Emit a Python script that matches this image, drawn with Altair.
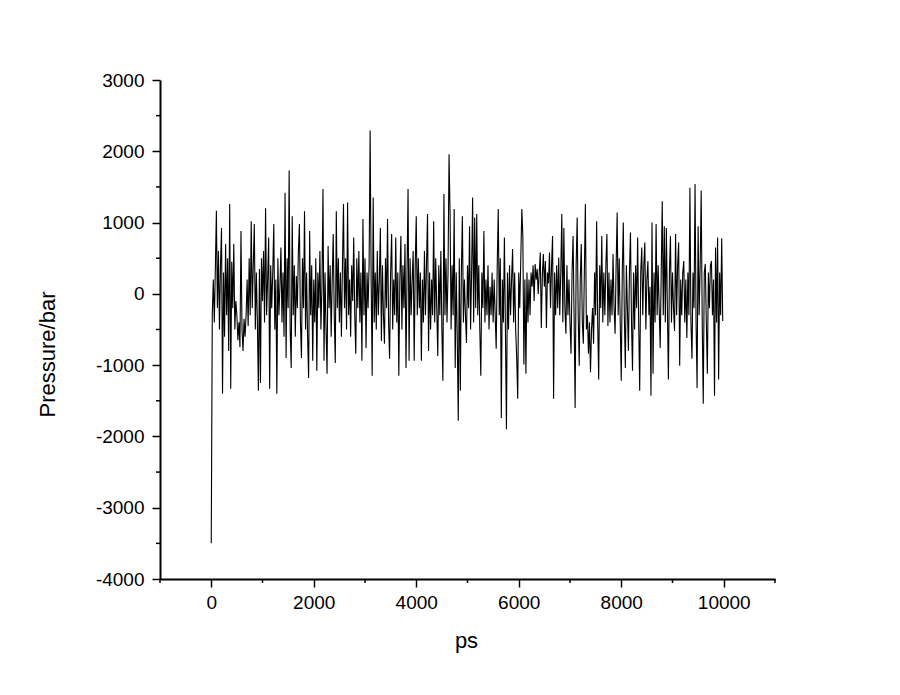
import altair as alt
import pandas as pd

# Pressure (bar), one sample every 20 ps
pressure_bar = [
    -3500, -300, 200, -400, 350, 1165, -200, 600, -500, 400,
    925, -1400, 300, -600, 700, -300, 500, -800, 1260, -1330,
    450, -200, 700, -500, -100, -300, -650, -400, -750, 880,
    -500, -800, -350, -600, -300, 200, -450, 500, -300, 1020,
    -200, 400, 980, -500, 300, -400, -1360, 350, -1250, 500,
    -100, 600, -400, 1200, -300, 200, 790, -1330, 400, -200,
    300, 980, -500, 200, -1400, 500, -300, 100, 650, -400,
    300, -600, 1420, -900, 500, -200, 1730, -500, -1040, 1090,
    -300, 400, -600, 250, -200, 600, 980, -400, -900, 500,
    -200, 1160, -500, 300, -600, -1180, 880, -300, 400, -940,
    200, -400, 500, -1080, 300, -200, 600, -500, 100, 1470,
    -940, 300, -500, -1120, 670, -200, 400, -600, 200, 840,
    -300, -970, 1160, -200, 500, -400, 300, -600, 400, 1260,
    -200, 500, -500, 1280, -300, 200, -600, 400, -100, 790,
    -300, -840, 500, -200, 600, -400, 300, -940, 1050, -300,
    500, -760, 300, -200, 400, 2290, 200, -1150, 1350, -400,
    300, -500, 600, -300, 200, 925, -660, 400, -300, -700,
    500, -200, 1050, -400, -910, 300, 840, -500, 200, -300,
    790, -400, 300, -1150, 200, 810, -500, 400, -200, 700,
    -1040, 300, 1470, -940, 500, -300, 200, 600, -940, 400,
    1090, -300, 500, -200, 300, -940, 200, -400, 600, -300,
    400, 1120, -800, 300, -500, 200, -300, 1020, -400, 500,
    -200, -870, 400, -300, 600, -500, -1220, 1400, -300, 500,
    -400, 300, 1960, 1120, -500, 400, -300, 1190, -1040, 300,
    -600, -1780, 500, -1360, 300, 1090, -400, 200, -300, -690,
    400, -200, 950, -500, 300, 1350, -400, 1070, -200, 1120,
    -300, 400, -500, -1150, 300, -200, 880, -400, 200, -300,
    400, -500, 100, -300, 300, -400, 200, -300, -770, 400,
    1190, -300, 500, -1740, 200, -400, 790, -500, -1900, 300,
    -500, 400, -300, 200, 630, -400, 300, -500, -900, -1470,
    300, -200, 500, 1190, 810, -990, 200, -1120, 300, -400,
    200, -300, 300, 100, 400, -100, 420, 200, 350, 0,
    300, 580, -480, 250, 560, 100, 460, -480, 300, 150,
    580, -200, 400, 810, -1470, 300, -300, 400, -200, 510,
    -300, 300, 1120, -400, 925, -200, -560, 400, -300, 200,
    -400, -840, 300, 810, -300, -1600, 400, 1070, -300, -1010,
    200, 700, -400, -700, 300, 1260, -500, -300, -840, -400,
    -1100, -500, -200, -700, 300, -300, 1020, -400, -1200, 400,
    -200, 810, -400, 300, -300, 400, 840, -450, 300, -400,
    200, -300, 560, -200, -560, 400, 1140, -300, 500, -400,
    -1220, 300, 1000, -300, -1040, 400, -200, -800, 300, 860,
    -400, -1080, 300, -500, 400, -200, 790, -400, -1360, 300,
    650, -300, 400, 720, -500, 200, 460, -300, 100, -1430,
    1000, -1120, 300, -400, 980, -300, 400, -200, -760, 300,
    1300, -300, 950, -400, 925, -200, -1200, 300, 810, -400,
    300, -200, -520, 840, -300, 400, 720, -1010, 200, -300,
    300, 460, -400, 200, -620, 300, -300, 1490, -400, -910,
    300, -200, 1540, -400, -1320, 950, -300, 400, 1450, -400,
    -1540, 300, 420, -400, -1120, 300, -200, 400, 460, -300,
    200, -1430, 650, -400, 790, -1200, 300, -300, 780, -380,
]
time_step_ps = 20
time_ps = [i * time_step_ps for i in range(len(pressure_bar))]

x_major = [0, 2000, 4000, 6000, 8000, 10000]
x_minor = [-1000, 1000, 3000, 5000, 7000, 9000, 11000]
y_major = [-4000, -3000, -2000, -1000, 0, 1000, 2000, 3000]
y_minor = [-3500, -2500, -1500, -500, 500, 1500, 2500]

df = pd.DataFrame({"ps": time_ps, "pressure": pressure_bar})
dfx = pd.DataFrame({"ps": x_minor})
dfy = pd.DataFrame({"pressure": y_minor})

W, H = 615, 499
xscale = alt.Scale(domain=[-1000, 11000], nice=False, zero=False)
yscale = alt.Scale(domain=[-4000, 3000], nice=False, zero=False)

xaxis = alt.Axis(title="ps", values=x_major, labelExpr="'' + datum.value",
                 titleX=306, titleY=68, titleBaseline="alphabetic",
                 labelPadding=6)
yaxis = alt.Axis(title="Pressure/bar", values=y_major, labelExpr="'' + datum.value",
                 titleX=-113, titleY=274, titleBaseline="middle",
                 titleAngle=270, titleAlign="center", labelPadding=8)

line = alt.Chart(df).mark_line(color="black", strokeWidth=1.1).encode(
    x=alt.X("ps:Q", scale=xscale, axis=xaxis, title="ps"),
    y=alt.Y("pressure:Q", scale=yscale, axis=yaxis, title="Pressure/bar"),
)

xminor = alt.Chart(dfx).mark_rule(color="black", strokeWidth=1.5).encode(
    x=alt.X("ps:Q", scale=xscale, axis=xaxis, title="ps"),
    y=alt.value(H),
    y2=alt.value(H + 4),
)

yminor = alt.Chart(dfy).mark_rule(color="black", strokeWidth=1.5).encode(
    y=alt.Y("pressure:Q", scale=yscale, axis=yaxis, title="Pressure/bar"),
    x=alt.value(-4),
    x2=alt.value(0),
)

chart = alt.layer(line, xminor, yminor).properties(
    width=W, height=H,
    background="white",
    autosize=alt.AutoSizeParams(type="none"),
    padding={"left": 152, "top": 72, "right": 100, "bottom": 96},
).configure_view(stroke=None).configure_axis(
    grid=False,
    domainColor="black", domainWidth=2,
    tickColor="black", tickWidth=1.5, tickSize=8,
    labelFont="Liberation Sans", labelFontSize=19, labelColor="black",
    titleFont="Liberation Sans", titleFontSize=22, titleFontWeight="normal",
    titleColor="black",
)

chart.save("out.html", embed_options={"renderer": "svg", "actions": False})
